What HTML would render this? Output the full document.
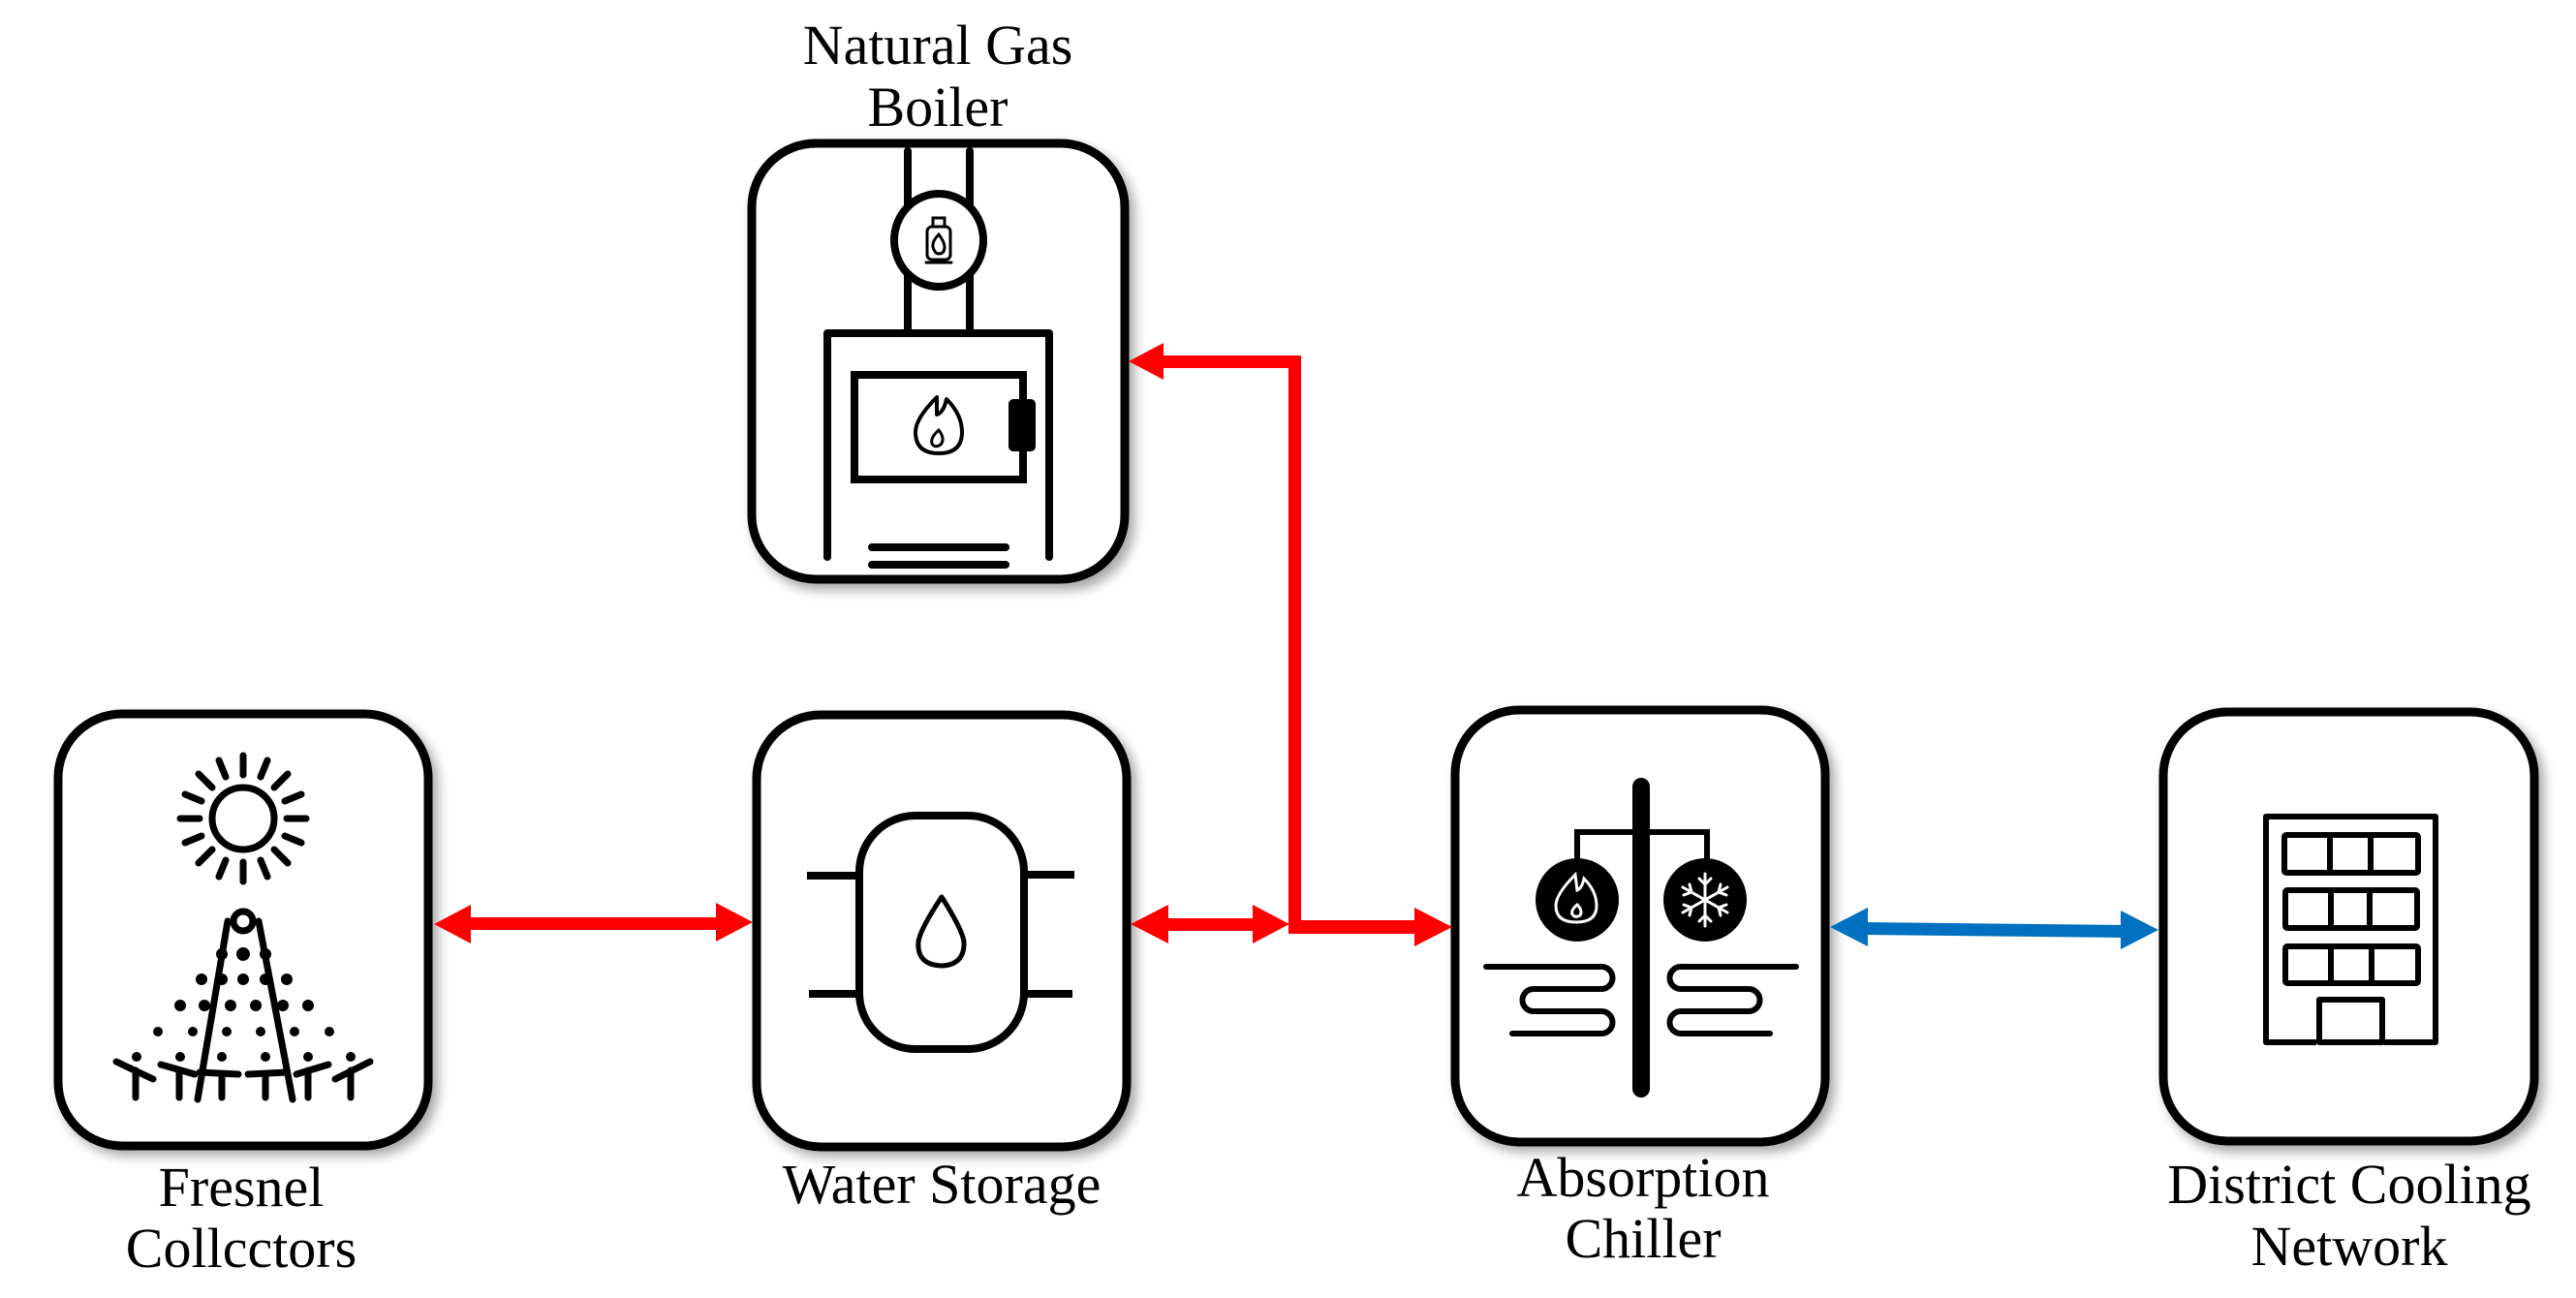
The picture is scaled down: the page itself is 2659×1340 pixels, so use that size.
<!DOCTYPE html>
<html><head><meta charset="utf-8"><style>
html,body{margin:0;padding:0;background:#fff;}
svg{display:block;}
text{font-family:"Liberation Serif",serif;font-size:58px;fill:#000;text-anchor:middle;}
</style></head><body>
<svg width="2659" height="1340" viewBox="0 0 2659 1340" xmlns="http://www.w3.org/2000/svg">
<defs>
<filter id="sh" x="-10%" y="-10%" width="120%" height="120%"><feGaussianBlur stdDeviation="6"/></filter>
</defs>
<g fill="#000" opacity="0.35" filter="url(#sh)">
<rect x="62" y="740" width="390" height="453" rx="68"/>
<rect x="783" y="741" width="390" height="453" rx="68"/>
<rect x="1504" y="736" width="390" height="453" rx="68"/>
<rect x="2235" y="738" width="391" height="451" rx="68"/>
<rect x="778" y="151" width="393" height="458" rx="68"/>
</g>
<g fill="#fff" stroke="#000" stroke-width="9">
<rect x="60" y="737" width="382" height="446" rx="66"/>
<rect x="781" y="738" width="382" height="446" rx="66"/>
<rect x="1502" y="733" width="382" height="446" rx="66"/>
<rect x="2233" y="735" width="383" height="443" rx="66"/>
<rect x="776" y="148" width="385" height="450" rx="66"/>
</g>

<g transform="translate(772,144)" fill="none" stroke="#000" stroke-width="8" stroke-linecap="round">
<line x1="165" y1="12" x2="165" y2="200"/>
<line x1="229" y1="12" x2="229" y2="200"/>
<ellipse cx="197" cy="104" rx="46" ry="48" fill="#fff"/>
<polyline points="82,431 82,200 311,200 311,431" stroke-linecap="round" stroke-linejoin="round"/>
<rect x="110" y="243" width="174" height="108"/>
<rect x="270" y="269" width="26" height="52" rx="4" fill="#000" stroke-width="2"/>
<line x1="128" y1="421" x2="266" y2="421"/>
<line x1="128" y1="439" x2="266" y2="439"/>
<g stroke-width="3">
<rect x="185" y="90" width="24" height="34" rx="5"/>
<rect x="191" y="81" width="12" height="9"/>
<line x1="184" y1="127" x2="210" y2="127"/>
<path d="M197,98 q-7,7 -6,13 q2,7 6,7 q6,0 6,-7 q0,-5 -6,-13z"/>
</g>
<path d="M195,266 q-22,22 -22,36 q0,22 24,22 q24,0 24,-22 q0,-18 -16,-34 q-3,14 -10,16 q0,-10 0,-18z" stroke-width="4" stroke-linejoin="round"/>
<path d="M197,300 q-9,8 -7,14 q3,5 9,1 q5,-6 -2,-15z" stroke-width="3"/>
</g>

<g transform="translate(56,733)" stroke="#000" stroke-width="7" stroke-linecap="round" fill="none">
<circle cx="195" cy="112" r="32"/>
<line x1="195" y1="47" x2="195" y2="67"/>
<line x1="195" y1="157" x2="195" y2="177"/>
<line x1="130" y1="112" x2="150" y2="112"/>
<line x1="240" y1="112" x2="260" y2="112"/>
<line x1="149" y1="66" x2="163" y2="80"/>
<line x1="227" y1="144" x2="241" y2="158"/>
<line x1="149" y1="158" x2="163" y2="144"/>
<line x1="227" y1="80" x2="241" y2="66"/>
<line x1="170" y1="52" x2="177" y2="69"/>
<line x1="213" y1="155" x2="220" y2="172"/>
<line x1="220" y1="52" x2="213" y2="69"/>
<line x1="177" y1="155" x2="170" y2="172"/>
<line x1="135" y1="87" x2="152" y2="94"/>
<line x1="238" y1="130" x2="255" y2="137"/>
<line x1="135" y1="137" x2="152" y2="130"/>
<line x1="238" y1="94" x2="255" y2="87"/>
<circle cx="195" cy="218" r="10"/>
<line x1="179" y1="218" x2="148" y2="402"/>
<line x1="211" y1="218" x2="246" y2="402"/>
<g fill="#000" stroke="none">
<circle cx="173" cy="252" r="6"/><circle cx="195" cy="252" r="7"/><circle cx="218" cy="252" r="6"/>
<circle cx="152" cy="278" r="6"/><circle cx="173" cy="278" r="6"/><circle cx="195" cy="278" r="6"/><circle cx="218" cy="278" r="6"/><circle cx="240" cy="278" r="6"/>
<circle cx="130" cy="305" r="6"/><circle cx="155" cy="305" r="6"/><circle cx="182" cy="305" r="6"/><circle cx="208" cy="305" r="6"/><circle cx="236" cy="305" r="6"/><circle cx="262" cy="305" r="6"/>
<circle cx="107" cy="332" r="5"/><circle cx="143" cy="332" r="5"/><circle cx="178" cy="332" r="5"/><circle cx="213" cy="332" r="5"/><circle cx="248" cy="332" r="5"/><circle cx="284" cy="332" r="5"/>
<circle cx="85" cy="358" r="5"/><circle cx="130" cy="358" r="5"/><circle cx="173" cy="358" r="5"/><circle cx="218" cy="358" r="5"/><circle cx="262" cy="358" r="5"/><circle cx="306" cy="358" r="5"/>
</g>
<line x1="64" y1="363" x2="102" y2="381"/><line x1="84" y1="372" x2="84" y2="400"/>
<line x1="110" y1="366" x2="145" y2="376"/><line x1="129" y1="372" x2="129" y2="400"/>
<line x1="150" y1="374" x2="190" y2="376"/><line x1="173" y1="376" x2="173" y2="400"/>
<line x1="200" y1="376" x2="240" y2="374"/><line x1="218" y1="376" x2="218" y2="400"/>
<line x1="250" y1="376" x2="283" y2="366"/><line x1="262" y1="372" x2="262" y2="400"/>
<line x1="290" y1="381" x2="326" y2="363"/><line x1="306" y1="372" x2="306" y2="400"/>
</g>

<g transform="translate(777,734)" stroke="#000" fill="none">
<rect x="110" y="108" width="170" height="241" rx="58" stroke-width="8"/>
<g stroke-width="8">
<line x1="56" y1="170" x2="110" y2="170"/><line x1="58" y1="292" x2="110" y2="292"/>
<line x1="280" y1="169" x2="332" y2="169"/><line x1="280" y1="292" x2="330" y2="292"/>
</g>
<path d="M195,192 q-22,33 -24,46 q-2,24 24,25 q24,-1 23,-25 q-2,-13 -23,-46z" stroke-width="5" stroke-linejoin="round"/>
</g>

<g transform="translate(1498,729)">
<g stroke="#000" fill="none" stroke-linecap="round">
<line x1="196" y1="83" x2="196" y2="395" stroke-width="18"/>
<polyline points="130,160 130,130 264,130 264,160" stroke-width="6" stroke-linecap="butt"/>
<path d="M36,269 H155 a11.5,11.5 0 0 1 0,23 H85 a11.5,11.5 0 0 0 0,23 H155 a11.5,11.5 0 0 1 0,23 H63" stroke-width="6"/>
<path d="M356,269 H237 a11.5,11.5 0 0 0 0,23 H307 a11.5,11.5 0 0 1 0,23 H237 a11.5,11.5 0 0 0 0,23 H329" stroke-width="6"/>
</g>
<circle cx="130" cy="200" r="43" fill="#000"/>
<circle cx="262" cy="200" r="43" fill="#000"/>
<g stroke="#fff" fill="none" stroke-width="3" stroke-linecap="round">
<path d="M128,174 q-20,20 -20,32 q0,17 21,17 q21,0 21,-17 q0,-15 -13,-28 q-2,10 -7,12 q-1,-8 -2,-16z"/>
<path d="M130,205 q-7,6 -5,10 q3,4 8,1 q3,-5 -3,-11z"/>
<g transform="translate(262,200)">
<line x1="0" y1="-27" x2="0" y2="27"/>
<line x1="-23" y1="-13" x2="23" y2="13"/>
<line x1="-23" y1="13" x2="23" y2="-13"/>
<path d="M-6,-22 L0,-16 L6,-22 M-6,22 L0,16 L6,22"/>
<path d="M-22,-5 L-14,-8 L-16,-16 M22,5 L14,8 L16,16 M-22,5 L-14,8 L-16,16 M22,-5 L14,-8 L16,-16"/>
</g>
</g>
</g>

<g transform="translate(2229,731)" stroke="#000" fill="none" stroke-width="6" stroke-linejoin="round">
<polyline points="162,345 110,345 110,112 285,112 285,345 232,345"/>
<rect x="129" y="131" width="138" height="39" rx="2"/>
<line x1="176" y1="131" x2="176" y2="170"/><line x1="218" y1="131" x2="218" y2="170"/>
<rect x="130" y="188" width="136" height="39" rx="2"/>
<line x1="177" y1="188" x2="177" y2="227"/><line x1="217" y1="188" x2="217" y2="227"/>
<rect x="130" y="246" width="137" height="38" rx="2"/>
<line x1="177" y1="246" x2="177" y2="284"/><line x1="219" y1="246" x2="219" y2="284"/>
<rect x="165" y="301" width="65" height="44"/>
</g>

<g fill="#ff0000" stroke="none">
<rect x="480" y="947" width="266" height="13"/>
<polygon points="448,954 486,934 486,974"/>
<polygon points="777,952 739,932 739,972"/>
<rect x="1200" y="948" width="100" height="13"/>
<polygon points="1167,954 1206,934 1206,974"/>
<polygon points="1331,954 1293,934 1293,974"/>
<rect x="1330" y="950" width="135" height="14"/>
<polygon points="1499,957 1460,937 1460,977"/>
<rect x="1330" y="367" width="13" height="597"/>
<rect x="1200" y="367" width="143" height="13"/>
<polygon points="1165,373 1201,354 1201,392"/>
</g>
<g fill="#0070c0">
<polygon points="1922,952 2196,955 2196,968 1922,965"/>
<polygon points="1889,957 1928,937 1928,977"/>
<polygon points="2228,960 2189,940 2189,980"/>
</g>

<text x="968" y="66">Natural Gas</text>
<text x="968" y="130">Boiler</text>
<text x="249" y="1245">Fresnel</text>
<text x="249" y="1308">Collcctors</text>
<text x="972" y="1242">Water Storage</text>
<text x="1696" y="1235">Absorption</text>
<text x="1696" y="1298">Chiller</text>
<text x="2425" y="1242">District Cooling</text>
<text x="2425" y="1306">Network</text>
</svg>
</body></html>
